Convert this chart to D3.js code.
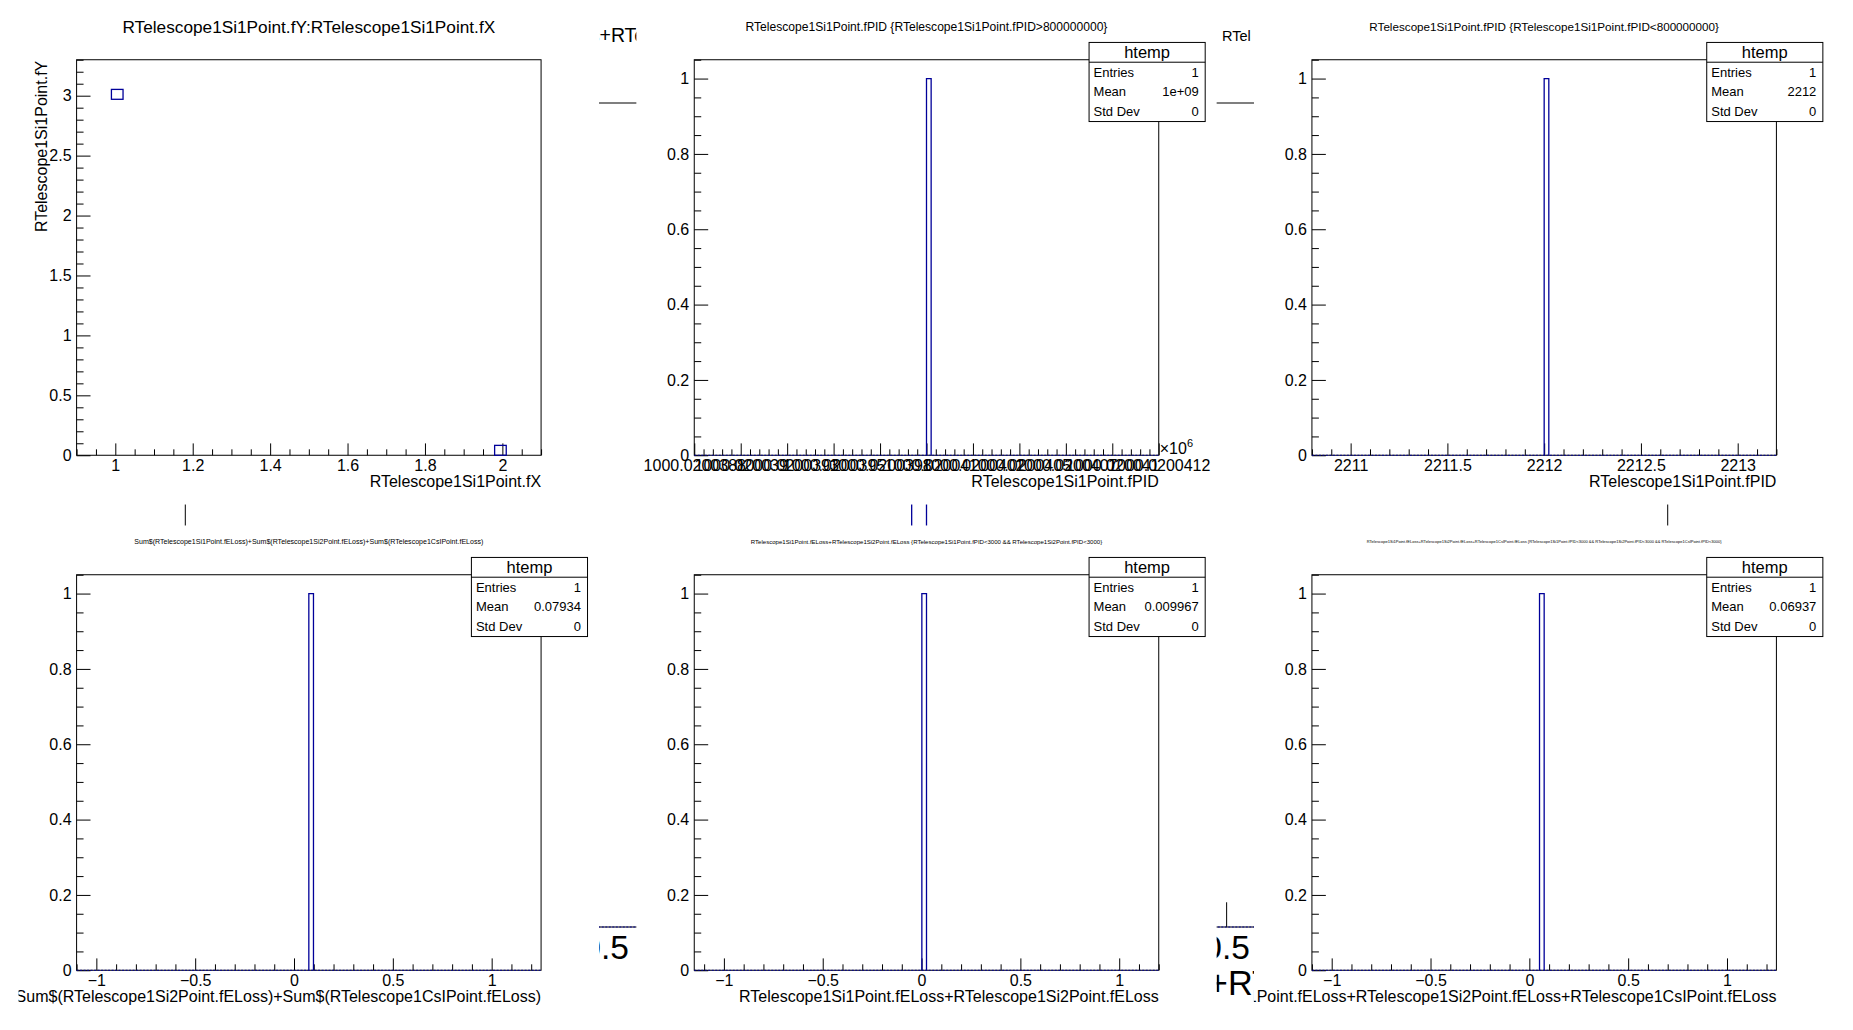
<!DOCTYPE html>
<html>
<head>
<meta charset="utf-8">
<script src="https://cdn.jsdelivr.net/npm/d3@7"></script>
<style>
body{margin:0;background:#fff;}
svg{display:block;}
</style>
</head>
<body>
<svg id="canvas" width="1853" height="1030"></svg>
<script>
/**
 * 3x2 canvas of TTree::Draw outputs (RTelescope1 points)
 */
var FONT='"Liberation Sans", Arial, Helvetica, sans-serif';
var HCOL="#000099";

// pad 1: fY vs fX (2D, box)
var scatterX=[1.0,2.0];
var scatterY=[3.0,0.03];
var scatterXRange=[0.9,2.1];
var scatterYRange=[0,3.3];
var scatterBins=[40,40];
var scatterXTicks=[1,1.2,1.4,1.6,1.8,2];
var scatterYTicks=[0,0.5,1,1.5,2,2.5,3];

// pads 2..6: one entry histograms
var histData=[[1000020040],[2212],[0.07934],[0.009967],[0.06937]];
var histRanges=[[1000020038.8,1000020041.2],[2210.8,2213.2],[-1.1,1.25],[-1.15,1.2],[-1.1,1.25]];
var histBins=100;
var histEntries=["1","1","1","1","1"];
var histMeans=["1e+09","2212","0.07934","0.009967","0.06937"];
var histStdDevs=["0","0","0","0","0"];
var countTicks=[0,0.2,0.4,0.6,0.8,1];
var countRange=[0,1.05];

var pidTicks=[1000020038.8,1000020039.04,1000020039.28,1000020039.52,1000020039.76,1000020040,
              1000020040.24,1000020040.48,1000020040.72,1000020040.96,1000020041.2];
var pidTickLabels=["1000.0200388","1000.020039","1000.0200393","1000.0200395","1000.0200398","1000.02004",
                   "1000.0200402","1000.0200405","1000.0200407","1000.020041","1000.0200412"];
var pid2Ticks=[2211,2211.5,2212,2212.5,2213];
var elossTicks=[-1,-0.5,0,0.5,1];

var padTitles=[
    "RTelescope1Si1Point.fY:RTelescope1Si1Point.fX",
    "RTelescope1Si1Point.fPID {RTelescope1Si1Point.fPID>800000000}",
    "RTelescope1Si1Point.fPID {RTelescope1Si1Point.fPID<800000000}",
    "Sum$(RTelescope1Si1Point.fELoss)+Sum$(RTelescope1Si2Point.fELoss)+Sum$(RTelescope1CsIPoint.fELoss)",
    "RTelescope1Si1Point.fELoss+RTelescope1Si2Point.fELoss {RTelescope1Si1Point.fPID<3000 && RTelescope1Si2Point.fPID<3000}",
    "RTelescope1Si1Point.fELoss+RTelescope1Si2Point.fELoss+RTelescope1CsIPoint.fELoss {RTelescope1Si1Point.fPID<3000 && RTelescope1Si2Point.fPID<3000 && RTelescope1CsIPoint.fPID<3000}"
];
var xTitles=[
    "RTelescope1Si1Point.fX",
    "RTelescope1Si1Point.fPID",
    "RTelescope1Si1Point.fPID",
    "Sum$(RTelescope1Si1Point.fELoss)+Sum$(RTelescope1Si2Point.fELoss)+Sum$(RTelescope1CsIPoint.fELoss)",
    "RTelescope1Si1Point.fELoss+RTelescope1Si2Point.fELoss",
    "RTelescope1Si1Point.fELoss+RTelescope1Si2Point.fELoss+RTelescope1CsIPoint.fELoss"
];
var yTitle="RTelescope1Si1Point.fY";
var histXTicks=[pidTicks,pid2Ticks,elossTicks,elossTicks,elossTicks];
var histXLabels=[pidTickLabels,null,null,null,null];
var histMinor=[5,5,5,5,5];

// layout (pixels)
var W=1853,H=1030;
var titleWidths=[373,362,350,350,352,356];

var svg=d3.select("#canvas");
svg.append("rect").attr("width",W).attr("height",H).attr("fill","#fff");

function fmt(d){
    return String(+d.toFixed(6)).replace("-","\u2212");
}

function minorTicks(major,n,dom){
    var step=(major[1]-major[0])/n;
    var out=[];
    var lo=Math.min(dom[0],dom[1]),hi=Math.max(dom[0],dom[1]);
    for(var k=-n;k<=(major.length-1)*n+n;k++){
        var v=major[0]+k*step;
        if(k%n===0)continue;
        if(v>=lo-1e-9 && v<=hi+1e-9)out.push(v);
    }
    return out;
}

function textWidth(g,str,fs){
    var t=g.append("text").attr("font-family",FONT).attr("font-size",fs).text(str);
    var w=t.node().getComputedTextLength();
    t.remove();
    return w;
}

function styleAxis(a,fs){
    a.select(".domain").remove();
    a.attr("font-family",FONT).attr("font-size",fs);
    a.selectAll("line").attr("stroke","#000");
    a.selectAll("text").attr("fill","#000");
}

function drawAxes(g,box,x,y,xt,xl,xminor,yt,ymin,opt){
    var fb=box.y1,fl=box.x0;
    var xtl=opt.xTick,ytl=opt.yTick;
    var ax=g.append("g").attr("transform","translate(0,"+fb+")")
        .call(d3.axisBottom(x).tickValues(xt).tickSize(-xtl).tickPadding(opt.xPad)
        .tickFormat(function(d,i){return xl?xl[i]:fmt(d);}));
    styleAxis(ax,opt.fs);
    var axm=g.append("g").attr("transform","translate(0,"+fb+")")
        .call(d3.axisBottom(x).tickValues(minorTicks(xt,xminor,x.domain())).tickSize(-xtl/2).tickFormat(""));
    styleAxis(axm,opt.fs);
    var ay=g.append("g").attr("transform","translate("+fl+",0)")
        .call(d3.axisLeft(y).tickValues(yt).tickSize(-ytl).tickPadding(opt.yPad).tickFormat(fmt));
    styleAxis(ay,opt.fs);
    var aym=g.append("g").attr("transform","translate("+fl+",0)")
        .call(d3.axisLeft(y).tickValues(minorTicks(yt,ymin,y.domain())).tickSize(-ytl/2).tickFormat(""));
    styleAxis(aym,opt.fs);
}

function frameBox(px,py,pw,ph){
    return {x0:px+0.1*pw,x1:px+0.9*pw,y0:py+0.1*ph,y1:py+0.9*ph};
}

//一维直方图
function drawHist(g,box,idx,opt){
    var range=histRanges[idx];
    var x=d3.scaleLinear().domain(range).range([box.x0,box.x1]);
    var y=d3.scaleLinear().domain(countRange).range([box.y1,box.y0]);
    var bw=(range[1]-range[0])/histBins;
    var counts=new Array(histBins).fill(0);
    histData[idx].forEach(function(v){
        var k=Math.floor((v-range[0])/bw+1e-6);
        if(k>=0&&k<histBins)counts[k]+=1;
    });
    var pts=[];
    counts.forEach(function(c,k){
        var a=range[0]+k*bw,b=range[0]+(k+1)*bw;
        if(c>0){
            pts.push([x(a),y(0)],[x(a),y(c)],[x(b),y(c)],[x(b),y(0)]);
        }
    });
    g.append("rect").attr("x",box.x0).attr("y",box.y0)
        .attr("width",box.x1-box.x0).attr("height",box.y1-box.y0)
        .attr("fill","none").attr("stroke","#000").attr("stroke-width",1);
    drawAxes(g,box,x,y,histXTicks[idx],histXLabels[idx],histMinor[idx],countTicks,4,opt);
    // zero level of the outline on top of the axis
    g.append("line").attr("x1",box.x0).attr("x2",box.x1).attr("y1",y(0)).attr("y2",y(0))
        .attr("stroke",HCOL).attr("stroke-width",1).attr("stroke-dasharray","2,1.5");
    if(pts.length){
        g.append("path").attr("d",d3.line()(pts)).attr("fill","none")
            .attr("stroke",HCOL).attr("stroke-width",1.3);
    }
    return x;
}

function drawStats(g,px,py,pw,ph,idx){
    var x0=px+0.78*pw,x1=px+0.98*pw,y0=py+0.065*ph,y1=py+0.225*ph;
    var rh=(y1-y0)/4;
    g.append("rect").attr("x",x0).attr("y",y0).attr("width",x1-x0).attr("height",y1-y0)
        .attr("fill","#fff").attr("stroke","#000").attr("stroke-width",1);
    g.append("line").attr("x1",x0).attr("x2",x1).attr("y1",y0+rh).attr("y2",y0+rh).attr("stroke","#000");
    g.append("text").attr("x",(x0+x1)/2).attr("y",y0+rh/2+5.8).attr("text-anchor","middle")
        .attr("font-family",FONT).attr("font-size",16.5).text("htemp");
    var rows=[["Entries",histEntries[idx]],["Mean",histMeans[idx]],["Std Dev",histStdDevs[idx]]];
    rows.forEach(function(r,k){
        var cy=y0+rh*(k+1)+rh/2+4.6;
        g.append("text").attr("x",x0+4.5).attr("y",cy).attr("font-family",FONT).attr("font-size",13).text(r[0]);
        g.append("text").attr("x",x1-6.5).attr("y",cy).attr("text-anchor","end")
            .attr("font-family",FONT).attr("font-size",13).text(r[1]);
    });
}

// --- what was left on the canvas under the pads ---
var bg=svg.append("g");
var cbox=frameBox(0,0,W,H);
drawHist(bg,cbox,3,{fs:33.5,xTick:0.03*(cbox.y1-cbox.y0),yTick:0.03*(cbox.x1-cbox.x0),xPad:8,yPad:10});
bg.append("text").attr("x",cbox.x1).attr("y",995).attr("text-anchor","end")
    .attr("font-family",FONT).attr("font-size",34.3).text(xTitles[4]);
var preW=textWidth(bg,"RTelescope1Si1Point.fELoss",19.5);
bg.append("text").attr("x",599.5-preW).attr("y",42).attr("font-family",FONT).attr("font-size",19.5).text(xTitles[4]);
bg.append("text").attr("x",1222).attr("y",41)
    .attr("font-family",FONT).attr("font-size",14.5).text("RTel");

// --- pads ---
for(var i=0;i<6;i++){
    var col=i%3,row=Math.floor(i/3);
    var px=(col/3+0.01)*W,pw=(1/3-0.02)*W;
    var py=(row*0.5+0.01)*H,ph=(0.5-0.02)*H;
    var clipId="clip"+i;
    svg.append("clipPath").attr("id",clipId).append("rect")
        .attr("x",px).attr("y",py).attr("width",pw).attr("height",ph);
    var g=svg.append("g").attr("clip-path","url(#"+clipId+")");
    g.append("rect").attr("x",px).attr("y",py).attr("width",pw).attr("height",ph).attr("fill","#fff");
    var box=frameBox(px,py,pw,ph);
    var opt={fs:16,xTick:0.03*(box.y1-box.y0),yTick:0.03*(box.x1-box.x0),xPad:4,yPad:5};

    if(i===0){
        var x=d3.scaleLinear().domain(scatterXRange).range([box.x0,box.x1]);
        var y=d3.scaleLinear().domain(scatterYRange).range([box.y1,box.y0]);
        g.append("rect").attr("x",box.x0).attr("y",box.y0)
            .attr("width",box.x1-box.x0).attr("height",box.y1-box.y0)
            .attr("fill","none").attr("stroke","#000");
        drawAxes(g,box,x,y,scatterXTicks,null,4,scatterYTicks,5,opt);
        var bwx=(scatterXRange[1]-scatterXRange[0])/scatterBins[0];
        var bwy=(scatterYRange[1]-scatterYRange[0])/scatterBins[1];
        scatterX.forEach(function(v,k){
            var ix=Math.floor((v-scatterXRange[0])/bwx+1e-6);
            var iy=Math.floor((scatterY[k]-scatterYRange[0])/bwy+1e-6);
            var xa=x(scatterXRange[0]+ix*bwx),xb=x(scatterXRange[0]+(ix+1)*bwx);
            var ya=y(scatterYRange[0]+(iy+1)*bwy),yb=y(scatterYRange[0]+iy*bwy);
            g.append("rect").attr("x",xa).attr("y",ya).attr("width",xb-xa).attr("height",yb-ya)
                .attr("fill","none").attr("stroke",HCOL).attr("stroke-width",1.3);
        });
        g.append("text").attr("transform","translate("+(box.x0-29.6)+","+(box.y0+1)+") rotate(-90)")
            .attr("text-anchor","end").attr("font-family",FONT).attr("font-size",16).text(yTitle);
    }else{
        drawHist(g,box,i-1,opt);
        drawStats(g,px,py,pw,ph,i-1);
        if(i===1){
            g.append("text").attr("x",box.x1+1).attr("y",box.y1-1).attr("font-family",FONT)
                .attr("font-size",16).text("\u00d710");
            g.append("text").attr("x",box.x1+1+textWidth(g,"\u00d710",16)).attr("y",box.y1-8)
                .attr("font-family",FONT).attr("font-size",11).text("6");
        }
    }
    g.append("text").attr("x",box.x1).attr("y",box.y1+32).attr("text-anchor","end")
        .attr("font-family",FONT).attr("font-size",16).text(xTitles[i]);

    var nat=textWidth(g,padTitles[i],17);
    var tfs=17*titleWidths[i]/nat;
    g.append("text").attr("x",px+pw/2).attr("y",py+16.5+0.36*tfs).attr("text-anchor","middle")
        .attr("font-family",FONT).attr("font-size",tfs).text(padTitles[i]);
}
</script>
</body>
</html>
